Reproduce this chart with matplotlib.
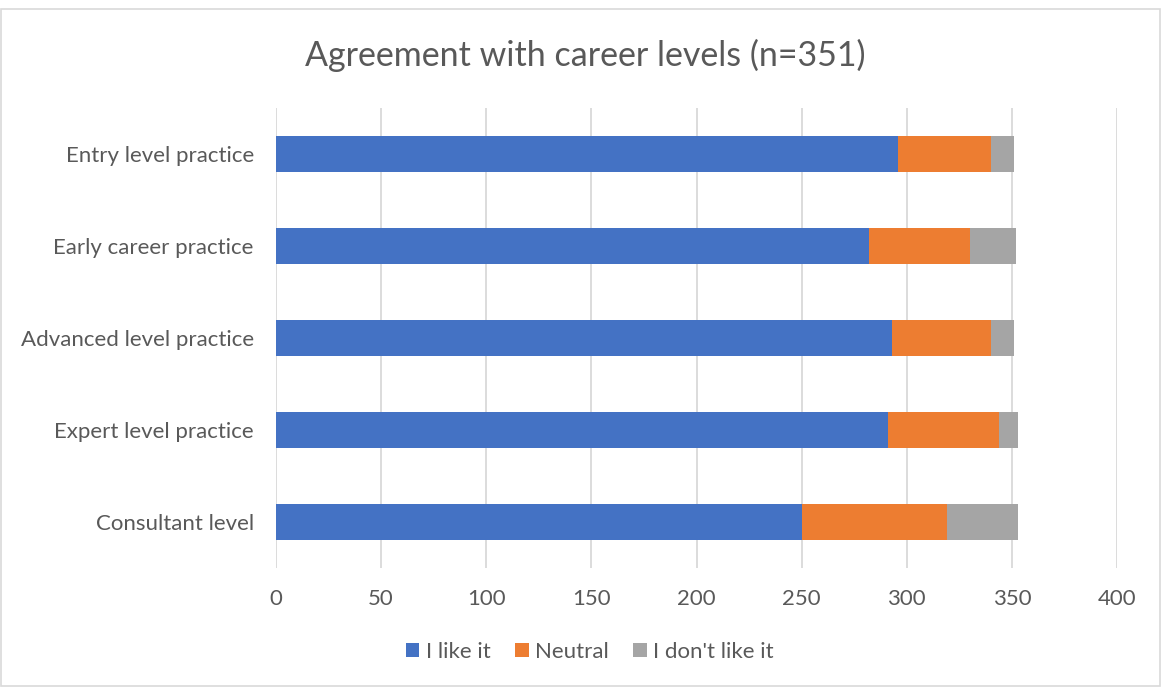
import matplotlib.pyplot as plt
from matplotlib.patches import Rectangle

# survey responses per career level
levels = ['Entry level practice', 'Early career practice', 'Advanced level practice',
          'Expert level practice', 'Consultant level']
like_it = [296, 282, 293, 291, 250]
neutral = [44, 48, 47, 53, 69]
dont_like = [11, 22, 11, 9, 34]

series_names = ['I like it', 'Neutral', "I don't like it"]
colors = ['#4472C4', '#ED7D31', '#A5A5A5']
text_col = '#595959'

plt.rcParams['font.family'] = ['Lato', 'DejaVu Sans']

fig = plt.figure(figsize=(11.62, 6.87), dpi=100)
ax = fig.add_axes([276 / 1162, 1 - 568 / 687, 841 / 1162, 460 / 687])

y = list(range(len(levels)))[::-1]
left = [0] * len(levels)
for vals, name, c in zip([like_it, neutral, dont_like], series_names, colors):
    ax.barh(y, vals, left=left, height=0.4, color=c, label=name, zorder=3)
    left = [a + b for a, b in zip(left, vals)]

ax.set_xlim(0, 400)
ax.set_ylim(-0.5, len(levels) - 0.5)
ax.set_xticks(range(0, 401, 50))
ax.set_yticks(y)
ax.set_yticklabels(levels)
ax.tick_params(axis='both', length=0, labelsize=16, labelcolor=text_col)
ax.tick_params(axis='x', pad=15)
ax.tick_params(axis='y', pad=16)
ax.grid(axis='x', color='#D9D9D9', linewidth=1.3, zorder=0)
for s in ax.spines.values():
    s.set_visible(False)

fig.text(585 / 1162, 1 - 55 / 687, 'Agreement with career levels (n=351)',
         ha='center', va='center', fontsize=24.5, color=text_col)

handles, labels = ax.get_legend_handles_labels()
fig.legend(handles, labels, loc='center', bbox_to_anchor=(590 / 1162, 1 - 652 / 687),
           ncol=3, frameon=False, fontsize=16, labelcolor=text_col,
           handlelength=0.6, handleheight=0.6, handletextpad=0.3, columnspacing=1.1)

# outer chart border
fig.patches.append(Rectangle((0.001, 0.002), 0.997, 0.985, transform=fig.transFigure,
                             fill=False, edgecolor='#D9D9D9', linewidth=1.2))

fig.savefig('out.png', dpi=100)
